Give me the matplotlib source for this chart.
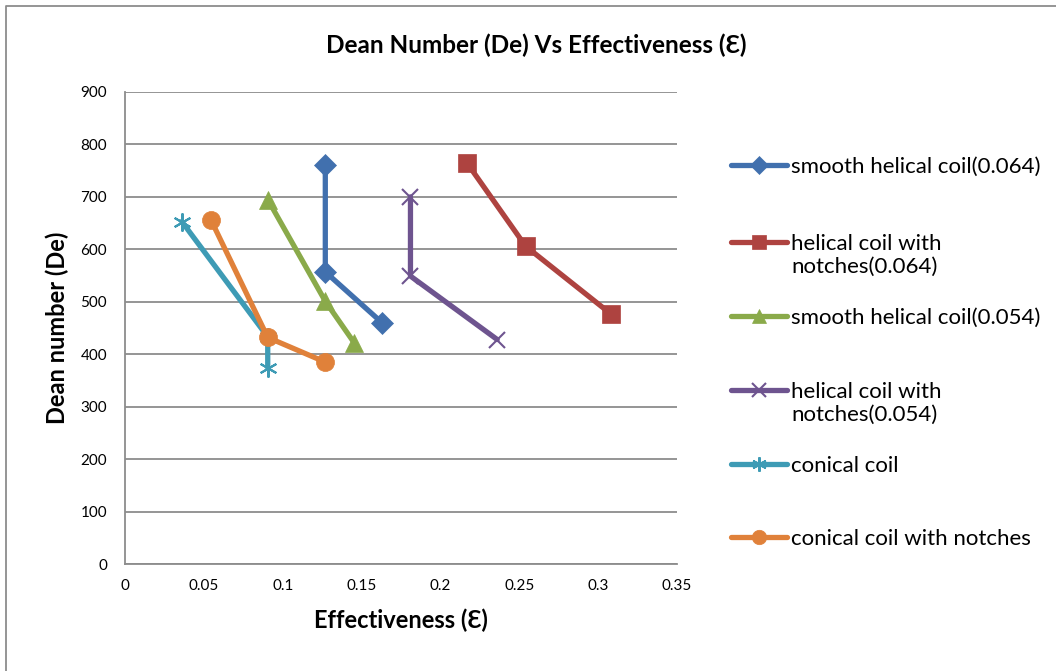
import numpy as np
import matplotlib
matplotlib.use('Agg')
import matplotlib.pyplot as plt
from matplotlib.lines import Line2D

plt.rcParams['font.family'] = ['Lato', 'DejaVu Sans']

# data
smooth_064_x = [0.127, 0.127, 0.163]
smooth_064_y = [761, 557, 460]
notch_064_x = [0.217, 0.254, 0.308]
notch_064_y = [764, 606, 477]
smooth_054_x = [0.0905, 0.127, 0.1455]
smooth_054_y = [695, 501, 421]
notch_054_x = [0.181, 0.181, 0.236]
notch_054_y = [700, 549, 428]
conical_x = [0.036, 0.0905, 0.0905]
conical_y = [653, 433, 374]
conical_notch_x = [0.0545, 0.0905, 0.127]
conical_notch_y = [656, 432, 385]

labels = ['smooth helical coil(0.064)', 'helical coil with\nnotches(0.064)',
          'smooth helical coil(0.054)', 'helical coil with\nnotches(0.054)',
          'conical coil', 'conical coil with notches']
colors = ['#4170AE', '#AE4340', '#8AAA4A', '#6E548F', '#3E9BB5', '#E0813A']
markers = ['D', 's', '^', 'x', (6, 2, 0), 'o']
msizes = [11, 13, 13, 12, 13, 13]

series = [(smooth_064_x, smooth_064_y), (notch_064_x, notch_064_y),
          (smooth_054_x, smooth_054_y), (notch_054_x, notch_054_y),
          (conical_x, conical_y), (conical_notch_x, conical_notch_y)]

fig = plt.figure(figsize=(10.56, 6.71), dpi=100)
ax = fig.add_axes([125/1056, 1-564/671, (677-125)/1056, (564-92)/671])

for i, (xs, ys) in enumerate(series):
    ax.plot(xs, ys, color=colors[i], lw=3.8, marker=markers[i], ms=msizes[i],
            mew=1.5 if markers[i] in ('x', (6, 2, 0)) else 0.5,
            mec=colors[i], mfc=colors[i], solid_capstyle='round')

ax.set_xlim(0, 0.35)
ax.set_ylim(0, 900)
ax.set_xticks(np.arange(0, 0.351, 0.05))
ax.set_xticklabels(['0', '0.05', '0.1', '0.15', '0.2', '0.25', '0.3', '0.35'])
ax.set_yticks(np.arange(0, 901, 100))
ax.yaxis.grid(True, color='#8c8c8c', lw=1.3)
ax.set_axisbelow(True)
for s in ['top', 'right']:
    ax.spines[s].set_visible(False)
for s in ['left', 'bottom']:
    ax.spines[s].set_color('#8c8c8c')
    ax.spines[s].set_linewidth(1.3)
ax.tick_params(length=0, labelsize=11, colors='black')
ax.tick_params(axis='y', pad=13)
ax.tick_params(axis='x', pad=11)

ax.set_xlabel('Effectiveness (Ɛ)', fontsize=17, fontweight='bold', labelpad=11)
ax.set_ylabel('Dean number (De)', fontsize=17, fontweight='bold', labelpad=8)
fig.text(0.5076, 1-45/671, 'Dean Number (De) Vs Effectiveness (Ɛ)', ha='center',
         va='center', fontsize=17.5, fontweight='bold')

# legend drawn by hand so the handle sits on the first text line
leg_y = [165, 242, 316, 390, 464, 537]
for i, lab in enumerate(labels):
    yf = 1 - leg_y[i]/671
    fig.add_artist(Line2D([731/1056, 787/1056], [yf, yf], transform=fig.transFigure,
                          color=colors[i], lw=3.8, solid_capstyle='round'))
    fig.add_artist(Line2D([759/1056], [yf], transform=fig.transFigure, color=colors[i],
                          marker=markers[i], ms=msizes[i]*0.8, mec=colors[i], mfc=colors[i],
                          mew=1.5 if markers[i] in ('x', (6, 2, 0)) else 0.5, lw=0))
    fig.text(791/1056, yf + 8/671, lab, ha='left', va='top', fontsize=16,
             linespacing=1.2)

# chart area border
fig.add_artist(Line2D([6/1056, 6/1056, 1.01], [-0.01, 1-6/671, 1-6/671],
                      transform=fig.transFigure, color='#8c8c8c', lw=1.3))

fig.savefig('out.png', dpi=100)
